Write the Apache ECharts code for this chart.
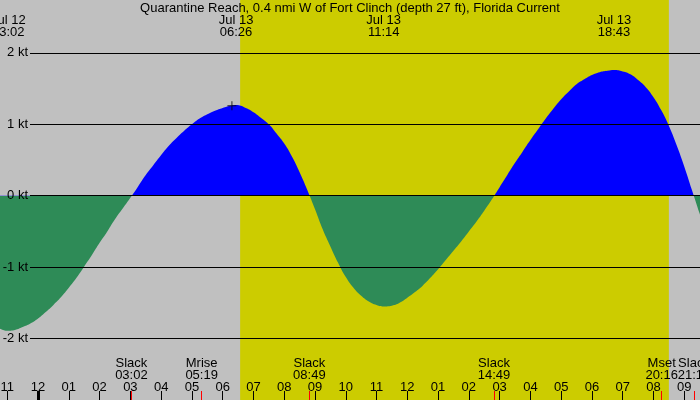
<!DOCTYPE html>
<html>
<head>
<meta charset="utf-8">
<script src="https://cdn.jsdelivr.net/npm/echarts@6/dist/echarts.min.js"></script>
<style>
  html, body { margin: 0; padding: 0; background: #c0c0c0; }
  #main { width: 700px; height: 400px; }
</style>
</head>
<body>
<div id="main"></div>
<script>
// time is counted in hours from Jul 12 00:00: quarter-hour readings plus the peaks
const times = [22.5, 22.75, 23.03, 23.25, 23.5, 23.75, 24.0, 24.25, 24.5, 24.75,
  25.0, 25.25, 25.5, 25.75, 26.0, 26.25, 26.5, 26.75, 27.0, 27.25,
  27.5, 27.75, 28.0, 28.25, 28.5, 28.75, 29.0, 29.25, 29.5, 29.75,
  30.0, 30.25, 30.43, 30.75, 31.0, 31.25, 31.5, 31.75, 32.0, 32.25,
  32.5, 32.75, 33.0, 33.25, 33.5, 33.75, 34.0, 34.25, 34.5, 34.75,
  35.0, 35.23, 35.5, 35.75, 36.0, 36.25, 36.5, 36.75, 37.0, 37.25,
  37.5, 37.75, 38.0, 38.25, 38.5, 38.75, 39.0, 39.25, 39.5, 39.75,
  40.0, 40.25, 40.5, 40.75, 41.0, 41.25, 41.5, 41.75, 42.0, 42.25,
  42.5, 42.72, 43.0, 43.25, 43.5, 43.75, 44.0, 44.25, 44.5, 44.75,
  45.0, 45.25, 45.5, 45.75]
const speeds = [-1.80, -1.86, -1.89, -1.88, -1.84, -1.79, -1.72, -1.63, -1.53, -1.42,
  -1.29, -1.15, -0.99, -0.83, -0.66, -0.50, -0.33, -0.18, -0.03, 0.13,
  0.29, 0.43, 0.57, 0.70, 0.81, 0.91, 1.00, 1.08, 1.14, 1.19,
  1.23, 1.26, 1.27, 1.23, 1.17, 1.09, 1.00, 0.87, 0.73, 0.55,
  0.33, 0.08, -0.19, -0.47, -0.71, -0.94, -1.14, -1.29, -1.40, -1.48,
  -1.53, -1.55, -1.54, -1.50, -1.43, -1.35, -1.26, -1.15, -1.03, -0.90,
  -0.77, -0.64, -0.50, -0.36, -0.21, -0.05, 0.12, 0.29, 0.46, 0.62,
  0.78, 0.93, 1.08, 1.22, 1.35, 1.46, 1.56, 1.63, 1.69, 1.73,
  1.75, 1.76, 1.74, 1.70, 1.62, 1.52, 1.38, 1.20, 0.98, 0.71,
  0.41, 0.08, -0.25, -0.57]

const yTicks = [-2, -1, 0, 1, 2]
const hourTicks = [23, 24, 25, 26, 27, 28, 29, 30, 31, 32, 33, 34, 35, 36, 37, 38, 39, 40, 41, 42, 43, 44, 45]
const midnightTicks = [24]

// events shown under the curve
const eventNames = ['Slack', 'Mrise', 'Slack', 'Slack', 'Mset', 'Slack']
const eventDays = ['Jul 13', 'Jul 13', 'Jul 13', 'Jul 13', 'Jul 13', 'Jul 13']
const eventClocks = ['03:02', '05:19', '08:49', '14:49', '20:16', '21:19']

// max flood / max ebb shown at the top
const peakDays = ['Jul 12', 'Jul 13', 'Jul 13', 'Jul 13']
const peakClocks = ['23:02', '06:26', '11:14', '18:43']

const daylight = ['Jul 13', '06:34', 'Jul 13', '20:30']
const crossMark = [30.3, 1.26]

const xMin = 22.763
const xMax = 45.512
const yMin = -2.861
const yMax = 2.741

function toHours (day, clock) {
  const parts = clock.split(':')
  return (day === 'Jul 13' ? 24 : 0) + Number(parts[0]) + Number(parts[1]) / 60
}

const eventTimes = eventClocks.map((c, i) => toHours(eventDays[i], c))
const peakTimes = peakClocks.map((c, i) => toHours(peakDays[i], c))
const curve = times.map((t, i) => [t, speeds[i]])

function findIndex (list, v) {
  let best = 0
  list.forEach((t, i) => { if (Math.abs(t - v) < Math.abs(list[best] - v)) best = i })
  return best
}

// the plot fills the whole canvas, so the zero level sits at this fraction of its height
const zeroAt = yMax / (yMax - yMin)
function halfFill (colorTop, colorBottom) {
  return {
    type: 'linear', x: 0, y: 0, x2: 0, y2: 400, global: true,
    colorStops: [
      { offset: 0, color: colorTop },
      { offset: zeroAt, color: colorTop },
      { offset: zeroAt, color: colorBottom },
      { offset: 1, color: colorBottom }
    ]
  }
}

const font = { fontFamily: 'Liberation Sans', fontSize: 13, color: '#000' }

const baseX = {
  type: 'value',
  gridIndex: 0,
  min: xMin,
  max: xMax,
  z: 10,
  axisLine: { show: false, onZero: false },
  splitLine: { show: false },
  axisTick: { show: false },
  axisLabel: { show: false }
}

// event labels go on two axes (odd / even) so neighbours never hide each other
function eventLabelAxis (parity) {
  const values = eventTimes.filter((t, i) => i % 2 === parity)
  return Object.assign({}, baseX, {
    position: 'bottom',
    axisTick: { show: false, customValues: values },
    axisLabel: Object.assign({
      show: true, inside: true, margin: 19, customValues: values, lineHeight: 12,
      showMinLabel: true, showMaxLabel: true, hideOverlap: false,
      formatter: v => { const i = findIndex(eventTimes, v); return eventNames[i] + '\n' + eventClocks[i] }
    }, font)
  })
}

const option = {
  animation: false,
  backgroundColor: '#c0c0c0',
  title: {
    text: 'Quarantine Reach, 0.4 nmi W of Fort Clinch (depth 27 ft), Florida Current',
    left: 'center',
    top: 2,
    padding: 0,
    z: 10,
    textStyle: Object.assign({ fontWeight: 'normal', lineHeight: 13 }, font)
  },
  grid: [
    { left: 0, right: 0, top: 0, bottom: 0, containLabel: false, outerBoundsMode: 'none' },
    { left: 30, right: 0, top: 0, bottom: 0, containLabel: false, outerBoundsMode: 'none' }
  ],
  xAxis: [
    // hour ticks
    Object.assign({}, baseX, {
      position: 'bottom',
      axisTick: {
        show: true, inside: true, length: 9, customValues: hourTicks,
        lineStyle: { color: '#000', width: 1 }
      },
      axisLabel: Object.assign({
        show: true, inside: true, margin: 6, customValues: hourTicks,
        showMinLabel: true, showMaxLabel: true, hideOverlap: false,
        formatter: v => { const h = Math.round(v) % 12; return String(h === 0 ? 12 : h).padStart(2, '0') }
      }, font)
    }),
    // midnight tick
    Object.assign({}, baseX, {
      position: 'bottom',
      axisTick: {
        show: true, inside: true, length: 9, customValues: midnightTicks,
        lineStyle: { color: '#000', width: 3 }
      }
    }),
    // event ticks
    Object.assign({}, baseX, {
      position: 'bottom',
      axisTick: {
        show: true, inside: true, length: 9, customValues: eventTimes,
        lineStyle: { color: '#ff0000', width: 1 }
      }
    }),
    // peaks at the top
    Object.assign({}, baseX, {
      position: 'top',
      axisTick: { show: false, customValues: peakTimes },
      axisLabel: Object.assign({
        show: true, inside: true, margin: 14, customValues: peakTimes, lineHeight: 12,
        showMinLabel: true, showMaxLabel: true, hideOverlap: false,
        formatter: v => { const i = findIndex(peakTimes, v); return peakDays[i] + '\n' + peakClocks[i] }
      }, font)
    }),
    Object.assign({}, baseX, { gridIndex: 1, show: false }),
    eventLabelAxis(0),
    eventLabelAxis(1)
  ],
  yAxis: [
    {
      type: 'value', gridIndex: 0, min: yMin, max: yMax, show: false
    },
    {
      type: 'value', gridIndex: 1, min: yMin, max: yMax, z: 10,
      axisLine: { show: false },
      axisTick: { show: false, customValues: yTicks },
      splitLine: { show: false },
      axisLabel: Object.assign({
        customValues: yTicks, margin: 2, verticalAlign: 'middle', lineHeight: 13, padding: [6, 0, 0, 0],
        showMinLabel: true, showMaxLabel: true,
        formatter: v => v + ' kt'
      }, font)
    }
  ],
  series: [
    {
      // daylight band
      type: 'line', xAxisIndex: 0, yAxisIndex: 0, data: [], z: 0, silent: true,
      markArea: {
        silent: true,
        itemStyle: { color: '#cccc00', opacity: 1 },
        data: [[{ xAxis: toHours(daylight[0], daylight[1]) }, { xAxis: toHours(daylight[2], daylight[3]) }]]
      }
    },
    {
      // grid lines
      type: 'line', xAxisIndex: 4, yAxisIndex: 1, data: [], z: 1, silent: true,
      markLine: {
        silent: true, symbol: 'none', label: { show: false },
        lineStyle: { color: '#000', width: 1, type: 'solid' },
        data: yTicks.filter(v => v !== 0).map(v => ({ yAxis: v }))
      }
    },
    {
      // zero line, between flood and ebb fills
      type: 'line', xAxisIndex: 4, yAxisIndex: 1, data: [], z: 3, silent: true,
      markLine: {
        silent: true, symbol: 'none', label: { show: false },
        lineStyle: { color: '#000', width: 1, type: 'solid' },
        data: [{ yAxis: 0 }]
      }
    },
    {
      // flood
      type: 'line', xAxisIndex: 0, yAxisIndex: 0, data: curve, z: 2, silent: true,
      smooth: 0.5, symbol: 'none', lineStyle: { width: 0 },
      areaStyle: { opacity: 1, color: halfFill('#0000ff', 'rgba(0,0,0,0)') }
    },
    {
      type: 'scatter', xAxisIndex: 0, yAxisIndex: 0, z: 6, silent: true,
      data: [crossMark],
      symbol: 'path://M0,4h9v1h-9z M4,0h1v9h-1z',
      symbolSize: 9,
      itemStyle: { color: '#000' }
    },
    {
      // ebb
      type: 'line', xAxisIndex: 0, yAxisIndex: 0, data: curve, z: 4, silent: true,
      smooth: 0.5, symbol: 'none', lineStyle: { width: 0 },
      areaStyle: { opacity: 1, color: halfFill('rgba(0,0,0,0)', '#2e8b57') }
    }
  ]
}

const chart = echarts.init(document.getElementById('main'))
chart.setOption(option)
</script>
</body>
</html>
